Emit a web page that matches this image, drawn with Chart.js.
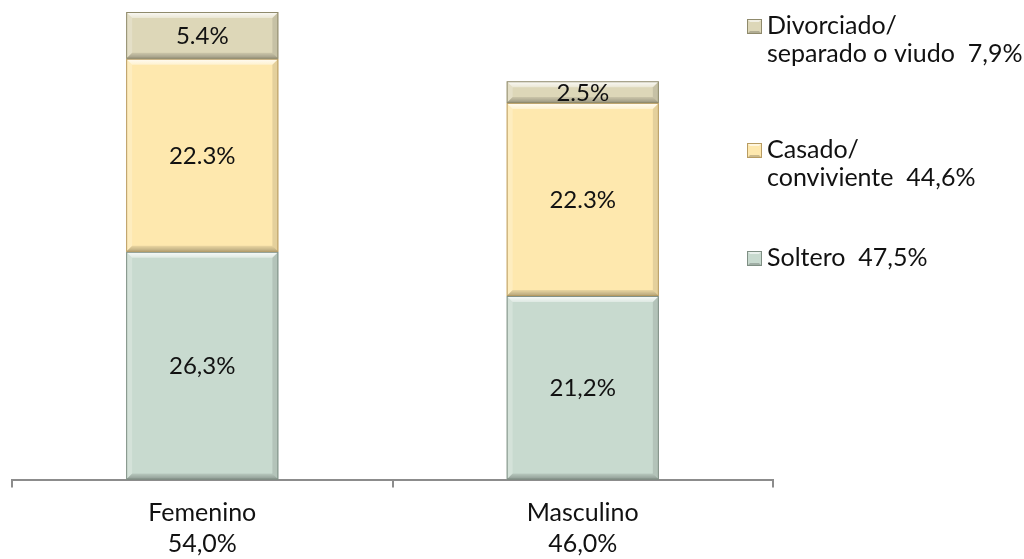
<!DOCTYPE html>
<html>
<head>
<meta charset="utf-8">
<script src="https://cdn.jsdelivr.net/npm/chart.js@4.4.1/dist/chart.umd.min.js"></script>
<style>
  html, body { margin: 0; padding: 0; background: #ffffff; overflow: hidden; }
  #wrap { width: 1024px; height: 559px; position: relative; overflow: hidden; }
</style>
</head>
<body>
<div id="wrap"><canvas id="c" width="1024" height="570"></canvas></div>
<script>
// ---- Data ----
const categories = [["Femenino", "54,0%"], ["Masculino", "46,0%"]];
const seriesNames = [["Soltero"], ["Casado/", "conviviente"], ["Divorciado/", "separado o viudo"]];
const seriesTotals = ["47,5%", "44,6%", "7,9%"];
const soltero = [26.3, 21.2];
const casado = [22.3, 22.3];
const divorciado = [5.4, 2.5];
const solteroLabels = ["26,3%", "21,2%"];
const casadoLabels = ["22.3%", "22.3%"];
const divorciadoLabels = ["5.4%", "2.5%"];
const yMax = 54;

// ---- Styles ----
const FONT = "Lato, 'Open Sans', sans-serif";
const FS = 24;
const FS_TXT = 25;
const fills = ["#c8dacf", "#fee8ae", "#ddd7b8"];
const borders = ["#7f8f84", "#b89c62", "#8f8a6c"];

const seriesLabels = [solteroLabels, casadoLabels, divorciadoLabels];

const bevelPlugin = {
  id: 'bevel',
  afterDatasetsDraw(chart) {
    const ctx = chart.ctx;
    chart.data.datasets.forEach((ds, di) => {
      const meta = chart.getDatasetMeta(di);
      meta.data.forEach((el, i) => {
        const p = el.getProps(['x', 'y', 'base', 'width'], true);
        const l = p.x - p.width / 2, r = p.x + p.width / 2;
        const t = Math.min(p.y, p.base), b = Math.max(p.y, p.base);
        const h = b - t;
        const bv = Math.min(6, h / 3);
        ctx.save();
        let g = ctx.createLinearGradient(0, t, 0, t + bv);
        g.addColorStop(0, 'rgba(255,255,255,0.9)');
        g.addColorStop(1, 'rgba(255,255,255,0.4)');
        ctx.fillStyle = g;
        ctx.beginPath();
        ctx.moveTo(l, t); ctx.lineTo(r, t); ctx.lineTo(r - bv, t + bv); ctx.lineTo(l + bv, t + bv); ctx.closePath();
        ctx.fill();
        ctx.fillStyle = 'rgba(255,255,255,0.22)';
        ctx.beginPath();
        ctx.moveTo(l, t); ctx.lineTo(l + bv, t + bv); ctx.lineTo(l + bv, b - bv); ctx.lineTo(l, b); ctx.closePath();
        ctx.fill();
        ctx.fillStyle = 'rgba(0,0,0,0.10)';
        ctx.beginPath();
        ctx.moveTo(r, t); ctx.lineTo(r - bv, t + bv); ctx.lineTo(r - bv, b - bv); ctx.lineTo(r, b); ctx.closePath();
        ctx.fill();
        g = ctx.createLinearGradient(0, b - bv, 0, b);
        g.addColorStop(0, 'rgba(0,0,0,0.08)');
        g.addColorStop(1, 'rgba(0,0,0,0.30)');
        ctx.fillStyle = g;
        ctx.beginPath();
        ctx.moveTo(l, b); ctx.lineTo(r, b); ctx.lineTo(r - bv, b - bv); ctx.lineTo(l + bv, b - bv); ctx.closePath();
        ctx.fill();
        ctx.strokeStyle = borders[di];
        ctx.lineWidth = 1;
        ctx.strokeRect(l + 0.5, t + 0.5, p.width - 1, h - 1);
        ctx.restore();
      });
    });
    ctx.save();
    ctx.font = FS + "px " + FONT;
    ctx.fillStyle = "#111111";
    ctx.textAlign = "center";
    ctx.textBaseline = "middle";
    chart.data.datasets.forEach((ds, di) => {
      const meta = chart.getDatasetMeta(di);
      meta.data.forEach((el, i) => {
        const p = el.getProps(['x', 'y', 'base'], true);
        ctx.fillText(seriesLabels[di][i], p.x, (p.y + p.base) / 2 + 1);
      });
    });
    ctx.restore();
  },
  afterDraw(chart) {
    const ctx = chart.ctx;
    const firstLineY = [258, 150, 26];
    const lineGap = 28;
    const boxX = 747, boxS = 15, textX = 767;
    ctx.save();
    ctx.font = FS_TXT + "px " + FONT;
    ctx.textAlign = "left";
    ctx.textBaseline = "middle";
    for (let s = 0; s < seriesNames.length; s++) {
      const y0 = firstLineY[s];
      const bx = boxX, by = Math.round(y0 - boxS / 2);
      ctx.fillStyle = fills[s];
      ctx.fillRect(bx, by, boxS, boxS);
      ctx.fillStyle = 'rgba(255,255,255,0.6)';
      ctx.beginPath(); ctx.moveTo(bx, by); ctx.lineTo(bx + boxS, by); ctx.lineTo(bx + boxS - 3, by + 3); ctx.lineTo(bx + 3, by + 3); ctx.closePath(); ctx.fill();
      ctx.fillStyle = 'rgba(0,0,0,0.2)';
      ctx.beginPath(); ctx.moveTo(bx, by + boxS); ctx.lineTo(bx + boxS, by + boxS); ctx.lineTo(bx + boxS - 3, by + boxS - 3); ctx.lineTo(bx + 3, by + boxS - 3); ctx.closePath(); ctx.fill();
      ctx.strokeStyle = borders[s];
      ctx.lineWidth = 1;
      ctx.strokeRect(bx + 0.5, by + 0.5, boxS - 1, boxS - 1);
      ctx.fillStyle = "#111111";
      const lines = seriesNames[s].slice();
      lines[lines.length - 1] = lines[lines.length - 1] + "  " + seriesTotals[s];
      lines.forEach((ln, k) => ctx.fillText(ln, textX, y0 + k * lineGap));
    }
    ctx.restore();
  }
};

new Chart(document.getElementById('c'), {
  type: 'bar',
  data: {
    labels: categories,
    datasets: [
      { label: "Soltero", data: soltero, backgroundColor: fills[0], borderWidth: 0 },
      { label: "Casado/ conviviente", data: casado, backgroundColor: fills[1], borderWidth: 0 },
      { label: "Divorciado/ separado o viudo", data: divorciado, backgroundColor: fills[2], borderWidth: 0 }
    ]
  },
  options: {
    responsive: false,
    animation: false,
    devicePixelRatio: 1,
    layout: { padding: { left: 12, right: 251, top: 12, bottom: 0 } },
    datasets: { bar: { barPercentage: 0.4, categoryPercentage: 1.0 } },
    plugins: { legend: { display: false }, tooltip: { enabled: false } },
    scales: {
      x: {
        stacked: true,
        offset: true,
        grid: { display: true, offset: true, drawOnChartArea: false, drawTicks: true, tickLength: 8, color: '#8c8c8c', lineWidth: 2 },
        border: { display: true, color: '#8c8c8c', width: 2 },
        ticks: { color: '#111111', padding: 10, font: { family: FONT, size: FS_TXT, lineHeight: 1.25 }, maxRotation: 0, autoSkip: false }
      },
      y: {
        stacked: true,
        display: false,
        min: 0,
        max: yMax
      }
    }
  },
  plugins: [bevelPlugin]
});
</script>
</body>
</html>
